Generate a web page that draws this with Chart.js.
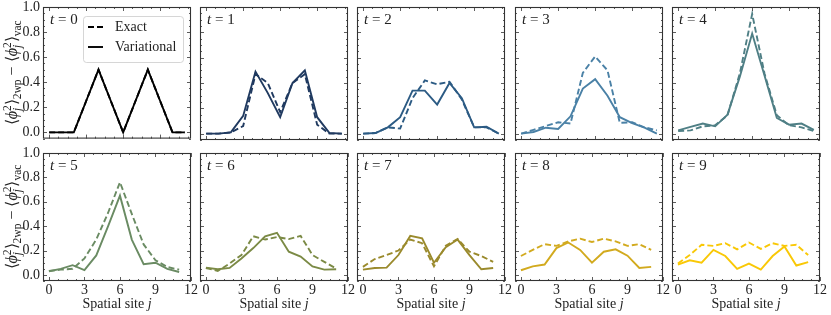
<!DOCTYPE html>
<html>
<head>
<meta charset="utf-8">
<script src="https://cdn.jsdelivr.net/npm/chart.js@4.4.1/dist/chart.umd.min.js"></script>
<style>
  body { margin: 0; background: #fff; }
  #wrap { position: relative; width: 831px; height: 315px; overflow: hidden; }
  canvas { position: absolute; }
</style>
</head>
<body>
<div id="wrap"></div>
<script>
// data: <phi_j^2>_2wp - <phi_j^2>_vac per site j, for t = 0..9
const sites = [0, 1, 2, 3, 4, 5, 6, 7, 8, 9, 10, 11];
const timeSteps = [0, 1, 2, 3, 4, 5, 6, 7, 8, 9];
const yTicks = [0, 0.2, 0.4, 0.6, 0.8, 1.0];
const xTicks = [0, 3, 6, 9, 12];

const exactT0 = [0, 0, 0, 0.25, 0.5, 0.25, 0, 0.25, 0.5, 0.25, 0, 0];
const variationalT0 = [0, 0, 0, 0.25, 0.5, 0.25, 0, 0.25, 0.5, 0.25, 0, 0];
const exactT1 = [0, 0, 0.01, 0.06, 0.47, 0.40, 0.17, 0.40, 0.47, 0.07, 0, 0];
const variationalT1 = [0, 0, 0.01, 0.14, 0.49, 0.32, 0.13, 0.40, 0.50, 0.13, 0.005, 0];
const exactT2 = [0, 0.005, 0.05, 0.04, 0.28, 0.42, 0.39, 0.41, 0.27, 0.05, 0.05, 0];
const variationalT2 = [0, 0.005, 0.05, 0.13, 0.34, 0.34, 0.23, 0.40, 0.28, 0.05, 0.055, 0];
const exactT3 = [0, 0.03, 0.06, 0.09, 0.08, 0.48, 0.61, 0.50, 0.085, 0.09, 0.05, 0.026];
const variationalT3 = [0, 0.013, 0.047, 0.037, 0.137, 0.356, 0.43, 0.30, 0.13, 0.084, 0.047, 0];
const exactT4 = [0.02, 0.026, 0.058, 0.066, 0.145, 0.475, 0.945, 0.475, 0.145, 0.066, 0.05, 0.02];
const variationalT4 = [0.026, 0.053, 0.08, 0.058, 0.15, 0.45, 0.79, 0.46, 0.124, 0.071, 0.08, 0.03];
const exactT5 = [0.032, 0.043, 0.05, 0.135, 0.29, 0.51, 0.76, 0.50, 0.25, 0.12, 0.065, 0.043];
const variationalT5 = [0.03, 0.05, 0.08, 0.04, 0.16, 0.40, 0.65, 0.29, 0.088, 0.10, 0.05, 0.024];
const exactT6 = [0.057, 0.032, 0.093, 0.163, 0.317, 0.29, 0.31, 0.294, 0.32, 0.163, 0.107, 0.052];
const variationalT6 = [0.06, 0.046, 0.057, 0.135, 0.22, 0.317, 0.345, 0.19, 0.15, 0.07, 0.043, 0.046];
const exactT7 = [0.066, 0.13, 0.163, 0.20, 0.29, 0.26, 0.07, 0.24, 0.294, 0.19, 0.155, 0.107];
const variationalT7 = [0.043, 0.057, 0.06, 0.163, 0.32, 0.30, 0.10, 0.227, 0.29, 0.163, 0.046, 0.057];
const exactT8 = [0.155, 0.205, 0.252, 0.238, 0.275, 0.297, 0.27, 0.297, 0.275, 0.238, 0.252, 0.205];
const variationalT8 = [0.038, 0.07, 0.085, 0.22, 0.266, 0.205, 0.10, 0.19, 0.21, 0.158, 0.057, 0.066];
const exactT9 = [0.093, 0.163, 0.247, 0.238, 0.26, 0.21, 0.266, 0.213, 0.26, 0.238, 0.247, 0.163];
const variationalT9 = [0.085, 0.12, 0.10, 0.205, 0.155, 0.05, 0.093, 0.043, 0.155, 0.233, 0.077, 0.105];

const exactSeries = [exactT0, exactT1, exactT2, exactT3, exactT4, exactT5, exactT6, exactT7, exactT8, exactT9];
const variationalSeries = [variationalT0, variationalT1, variationalT2, variationalT3, variationalT4,
  variationalT5, variationalT6, variationalT7, variationalT8, variationalT9];

const lineColors = ["#000000", "#203a60", "#2c5b84", "#4a81a6", "#4f7f85",
  "#6a8b63", "#7b8a45", "#9a8a2c", "#d2aa1e", "#f9c806"];

// panel geometry (px)
const colLeft = [43, 200, 357, 515, 672];
const plotW = 148;
const rowTop = [7, 153];
const rowH = [133, 128];
const xMaxRow = [11.5, 12];

const SERIF = '"Liberation Serif", "Times New Roman", serif';
const dash = [6, 3];

function drawPieces(ctx, items, x0, y0) {
  let x = x0, held = 0;
  items.forEach((it) => {
    ctx.font = it.f;
    const w = ctx.measureText(it.t).width;
    ctx.fillText(it.t, x, y0 + (it.dy || 0));
    if (it.stay) { held = w; return; }
    x += Math.max(w, held);
    held = 0;
  });
  return x - x0;
}

function piecesWidth(ctx, items) {
  let x = 0, held = 0;
  items.forEach((it) => {
    ctx.font = it.f;
    const w = ctx.measureText(it.t).width;
    if (it.stay) { held = w; return; }
    x += Math.max(w, held);
    held = 0;
  });
  return x;
}

const frame = {
  id: "frame",
  afterDatasetsDraw(chart) {
    const { ctx, chartArea: a, scales: { x, y } } = chart;
    ctx.save();
    ctx.strokeStyle = "#333";
    ctx.lineWidth = 0.8;
    ctx.beginPath();
    // x ticks, minor every 0.75
    for (let k = 0; k * 0.75 <= x.max + 1e-9; k++) {
      const v = k * 0.75;
      const px = Math.round(x.getPixelForValue(v)) + 0.5;
      const len = k % 4 === 0 ? 4 : 2;
      ctx.moveTo(px, a.bottom); ctx.lineTo(px, a.bottom - len);
      ctx.moveTo(px, a.top); ctx.lineTo(px, a.top + len);
    }
    // y ticks, minor every 0.05
    for (let k = 0; k <= 21; k++) {
      const v = -0.05 + k * 0.05;
      const py = Math.round(y.getPixelForValue(v)) + 0.5;
      const len = (k - 1) % 4 === 0 ? 4 : 2;
      ctx.moveTo(a.left, py); ctx.lineTo(a.left + len, py);
      ctx.moveTo(a.right, py); ctx.lineTo(a.right - len, py);
    }
    ctx.stroke();
    ctx.lineWidth = 1.1;
    ctx.strokeRect(a.left + 0.5, a.top + 0.5, a.width - 1, a.height - 1);
    ctx.restore();
  }
};

const panelText = {
  id: "panelText",
  afterDraw(chart, args, o) {
    const { ctx, chartArea: a } = chart;
    ctx.save();
    ctx.fillStyle = "#222";
    ctx.textBaseline = "middle";
    ctx.textAlign = "left";
    // t = n label
    drawPieces(ctx, [
      { t: "t", f: "italic 15px " + SERIF },
      { t: " = " + o.t, f: "15px " + SERIF }
    ], a.left + 7, a.top + 13);

    if (o.xTitle) {
      const items = [
        { t: "Spatial site ", f: "14px " + SERIF },
        { t: "j", f: "italic 14px " + SERIF }
      ];
      const w = piecesWidth(ctx, items);
      drawPieces(ctx, items, (a.left + a.right) / 2 - w / 2, a.bottom + 23);
    }

    if (o.yTitle) {
      const M = "16px " + SERIF, MI = "italic 16px " + SERIF;
      const S = "11.5px " + SERIF, SI = "italic 11.5px " + SERIF;
      const items = [
        { t: "⟨", f: M }, { t: "ϕ", f: MI }, { t: "2", f: S, dy: -6, stay: true }, { t: "j", f: SI, dy: 4 },
        { t: "⟩", f: M }, { t: "2wp", f: S, dy: 4 }, { t: " − ", f: M },
        { t: "⟨", f: M }, { t: "ϕ", f: MI }, { t: "2", f: S, dy: -6, stay: true }, { t: "j", f: SI, dy: 4 },
        { t: "⟩", f: M }, { t: "vac", f: S, dy: 4 }
      ];
      ctx.translate(a.left - 31, (a.top + a.bottom) / 2);
      ctx.rotate(-Math.PI / 2);
      ctx.textBaseline = "alphabetic";
      const w = piecesWidth(ctx, items);
      drawPieces(ctx, items, -w / 2, 5);
      ctx.setTransform(1, 0, 0, 1, 0, 0);
    }

    if (o.legend) {
      const bx = a.left + 40, by = a.top + 9, bw = 100, bh = 46;
      ctx.fillStyle = "rgba(255,255,255,0.85)";
      ctx.strokeStyle = "#cccccc";
      ctx.lineWidth = 0.8;
      ctx.beginPath();
      ctx.roundRect(bx + 0.5, by + 0.5, bw, bh, 3);
      ctx.fill();
      ctx.stroke();
      const rows = [{ label: "Exact", d: dash, y: a.top + 20 }, { label: "Variational", d: [], y: a.top + 40 }];
      rows.forEach((r) => {
        ctx.strokeStyle = "#000";
        ctx.lineWidth = 1.9;
        ctx.setLineDash(r.d);
        ctx.beginPath();
        ctx.moveTo(a.left + 45, r.y);
        ctx.lineTo(a.left + 60, r.y);
        ctx.stroke();
        ctx.setLineDash([]);
        ctx.fillStyle = "#222";
        ctx.font = "14px " + SERIF;
        ctx.textBaseline = "middle";
        ctx.fillText(r.label, a.left + 72, r.y);
      });
    }
    ctx.restore();
  }
};

const wrap = document.getElementById("wrap");

timeSteps.forEach((t, i) => {
  const row = Math.floor(i / 5), col = i % 5;
  const bottomRow = row === 1;
  const padTop = 20, padRight = 20, yW = 50, xH = bottomRow ? 34 : 10;

  const cv = document.createElement("canvas");
  cv.width = yW + plotW + padRight;
  cv.height = padTop + rowH[row] + xH;
  cv.style.left = (colLeft[col] - yW) + "px";
  cv.style.top = (rowTop[row] - padTop) + "px";
  wrap.appendChild(cv);

  new Chart(cv, {
    type: "line",
    data: {
      datasets: [
        {
          label: "Exact",
          data: sites.map((j, k) => ({ x: j, y: exactSeries[i][k] })),
          borderColor: lineColors[i],
          borderDash: dash,
          borderWidth: 1.9
        },
        {
          label: "Variational",
          data: sites.map((j, k) => ({ x: j, y: variationalSeries[i][k] })),
          borderColor: lineColors[i],
          borderWidth: 1.9
        }
      ]
    },
    options: {
      responsive: false,
      animation: false,
      events: [],
      layout: { padding: { top: padTop, right: padRight, left: 0, bottom: 0 } },
      elements: { point: { radius: 0 }, line: { tension: 0 } },
      plugins: {
        legend: { display: false },
        tooltip: { enabled: false },
        panelText: { t: t, xTitle: bottomRow, yTitle: col === 0, legend: i === 0 }
      },
      scales: {
        x: {
          type: "linear",
          min: -0.5,
          max: xMaxRow[row],
          grid: { display: false, drawTicks: false },
          border: { display: false },
          ticks: {
            display: bottomRow,
            color: "#222",
            padding: 1,
            maxRotation: 0,
            autoSkip: false,
            font: { family: SERIF, size: 14 },
            callback: (v) => String(v)
          },
          afterBuildTicks: (s) => { s.ticks = xTicks.filter((v) => v <= s.max).map((v) => ({ value: v })); },
          afterFit: (s) => { s.height = xH; }
        },
        y: {
          type: "linear",
          min: -0.05,
          max: 1.0,
          grid: { display: false, drawTicks: false },
          border: { display: false },
          ticks: {
            display: col === 0,
            color: "#222",
            padding: 3,
            font: { family: SERIF, size: 14 },
            callback: (v) => v.toFixed(1)
          },
          afterBuildTicks: (s) => { s.ticks = yTicks.map((v) => ({ value: v })); },
          afterFit: (s) => { s.width = yW; }
        }
      }
    },
    plugins: [frame, panelText]
  });
});
</script>
</body>
</html>
